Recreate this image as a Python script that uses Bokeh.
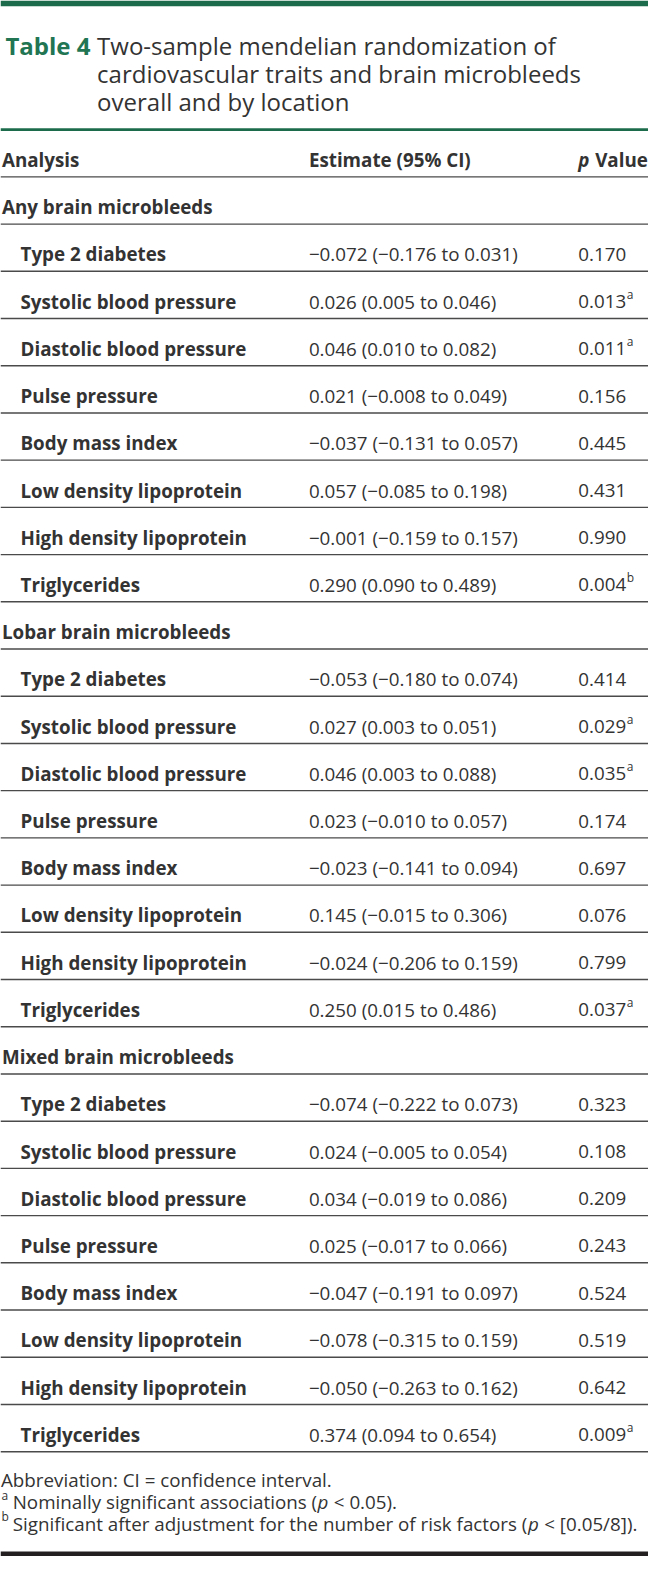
from bokeh.plotting import figure
from bokeh.models import ColumnDataSource, Range1d
from bokeh.core.properties import value
from bokeh.embed import file_html
from bokeh.resources import INLINE

# ---------------- data ----------------
title_label = "Table 4"
title_lines = ["Two-sample mendelian randomization of",
               "cardiovascular traits and brain microbleeds",
               "overall and by location"]
header_labels = ["Analysis", "Estimate (95% CI)", "p", "Value"]

sections = ["Any brain microbleeds", "Lobar brain microbleeds", "Mixed brain microbleeds"]
traits = ["Type 2 diabetes", "Systolic blood pressure", "Diastolic blood pressure",
          "Pulse pressure", "Body mass index", "Low density lipoprotein",
          "High density lipoprotein", "Triglycerides"]

any_est = [-0.072, 0.026, 0.046, 0.021, -0.037, 0.057, -0.001, 0.290]
any_lo = [-0.176, 0.005, 0.010, -0.008, -0.131, -0.085, -0.159, 0.090]
any_hi = [0.031, 0.046, 0.082, 0.049, 0.057, 0.198, 0.157, 0.489]
any_p = [0.170, 0.013, 0.011, 0.156, 0.445, 0.431, 0.990, 0.004]
any_mark = ["", "a", "a", "", "", "", "", "b"]

lobar_est = [-0.053, 0.027, 0.046, 0.023, -0.023, 0.145, -0.024, 0.250]
lobar_lo = [-0.180, 0.003, 0.003, -0.010, -0.141, -0.015, -0.206, 0.015]
lobar_hi = [0.074, 0.051, 0.088, 0.057, 0.094, 0.306, 0.159, 0.486]
lobar_p = [0.414, 0.029, 0.035, 0.174, 0.697, 0.076, 0.799, 0.037]
lobar_mark = ["", "a", "a", "", "", "", "", "a"]

mixed_est = [-0.074, 0.024, 0.034, 0.025, -0.047, -0.078, -0.050, 0.374]
mixed_lo = [-0.222, -0.005, -0.019, -0.017, -0.191, -0.315, -0.263, 0.094]
mixed_hi = [0.073, 0.054, 0.086, 0.066, 0.097, 0.159, 0.162, 0.654]
mixed_p = [0.323, 0.108, 0.209, 0.243, 0.524, 0.519, 0.642, 0.009]
mixed_mark = ["", "", "", "", "", "", "", "a"]

footnote_abbrev = "Abbreviation: CI = confidence interval."
footnote_a = ["a", "Nominally significant associations (", "p", "< 0.05)."]
footnote_b = ["b", "Significant after adjustment for the number of risk factors (", "p", "< [0.05/8])."]

# ---------------- layout / style ----------------
REF_W, REF_H = 664, 1572
FIG_W, FIG_H = 648, 1556
SX = FIG_W / REF_W
GREEN = "#1c6c4c"
TITLE_GREEN = "#217552"
TEXT = "#333333"
RULE = "#4a4a4a"
FONT = "Open Sans"
BODY_FS = 18.8
TITLE_FS = 24.0
SUP_FS = 12.0
TOP = 130.5
PITCH = 47.7
LEFT_SEC = 1.5
LEFT_TRAIT = 20.5
X_EST = 316
X_P = 592
BASE_OFF = 6.8
TITLE_BASE = 45
TITLE_LEAD = 28.5

# Open Sans regular advance widths (em)
W = {' ': .260, '(': .295, ')': .295, ',': .245, '-': .322, '.': .266, '/': .367,
     ':': .266, '<': .572, '=': .572, '[': .331, ']': .331,
     'A': .633, 'C': .631, 'I': .296, 'N': .742, 'S': .539, 'T': .542,
     'a': .556, 'b': .613, 'c': .476, 'd': .613, 'e': .561, 'f': .339, 'g': .548,
     'h': .614, 'i': .253, 'j': .253, 'k': .525, 'l': .253, 'm': .930, 'n': .614,
     'o': .604, 'p': .613, 'q': .613, 'r': .408, 's': .477, 't': .353, 'u': .614,
     'v': .501, 'w': .778, 'x': .524, 'y': .502, 'z': .477}
for d in "0123456789":
    W[d] = .572


def text_w(s, fs):
    """approximate width in data units"""
    return sum(W.get(c, .56) for c in s) * fs / SX


def fmt(v):
    return ("\u2212" if v < 0 else "") + f"{abs(v):.3f}"


# ---------------- build rows ----------------
rows = [("header",)]
groups = [(any_est, any_lo, any_hi, any_p, any_mark),
          (lobar_est, lobar_lo, lobar_hi, lobar_p, lobar_mark),
          (mixed_est, mixed_lo, mixed_hi, mixed_p, mixed_mark)]
for sec, (est, lo, hi, pv, mk) in zip(sections, groups):
    rows.append(("section", sec))
    for t, e, l, h, pp, m in zip(traits, est, lo, hi, pv, mk):
        rows.append(("trait", t, f"{fmt(e)} ({fmt(l)} to {fmt(h)})", f"{pp:.3f}", m))

bold = dict(x=[], y=[], t=[])
reg = dict(x=[], y=[], t=[])
sup = dict(x=[], y=[], t=[])
header_y = 0
for i, r in enumerate(rows):
    yb = TOP + PITCH * i + PITCH / 2 + BASE_OFF
    if r[0] == "header":
        for xx, tt in [(LEFT_SEC, header_labels[0]), (X_EST, header_labels[1])]:
            bold["x"].append(xx); bold["y"].append(yb); bold["t"].append(tt)
        header_y = yb
    elif r[0] == "section":
        bold["x"].append(LEFT_SEC); bold["y"].append(yb); bold["t"].append(r[1])
    else:
        bold["x"].append(LEFT_TRAIT); bold["y"].append(yb); bold["t"].append(r[1])
        reg["x"].append(X_EST); reg["y"].append(yb); reg["t"].append(r[2])
        reg["x"].append(X_P); reg["y"].append(yb); reg["t"].append(r[3])
        if r[4]:
            sup["x"].append(X_P + text_w(r[3], BODY_FS) + 0.5)
            sup["y"].append(yb - 7.5)
            sup["t"].append(r[4])

n_rows = len(rows)

p = figure(width=FIG_W, height=FIG_H, x_range=Range1d(0, REF_W), y_range=Range1d(REF_H, 0),
           output_backend="svg", toolbar_location=None, min_border=0,
           x_axis_location=None, y_axis_location=None)
p.grid.visible = False
p.outline_line_color = None
p.background_fill_color = "white"
p.border_fill_color = "white"

# bars top / bottom
p.quad(left=[0], right=[REF_W], top=[0], bottom=[5.7], fill_color=GREEN, line_color=None)
p.quad(left=[0], right=[REF_W], top=[1567], bottom=[REF_H], fill_color="#231f20", line_color=None)

# title
p.text(x=[5], y=[TITLE_BASE], text=[title_label], text_font=value(FONT), text_font_size=value(f"{TITLE_FS}px"),
       text_font_style=value("bold"), text_color=TITLE_GREEN, text_baseline="alphabetic", text_align="left")
p.text(x=[99] * 3, y=[TITLE_BASE + TITLE_LEAD * k for k in range(3)], text=title_lines, text_font=value(FONT),
       text_font_size=value(f"{TITLE_FS}px"), text_color=TEXT, text_baseline="alphabetic", text_align="left")

# rules
p.segment(x0=[0], x1=[REF_W], y0=[TOP], y1=[TOP], line_color=GREEN, line_width=2.6)
ys = [TOP + PITCH * i for i in range(1, n_rows + 1)]
p.segment(x0=[0] * len(ys), x1=[REF_W] * len(ys), y0=ys, y1=ys, line_color=RULE, line_width=1.4)

# table text
p.text(x="x", y="y", text="t", source=ColumnDataSource(bold), text_font=value(FONT),
       text_font_size=value(f"{BODY_FS}px"), text_font_style=value("bold"), text_color=TEXT,
       text_baseline="alphabetic", text_align="left")
p.text(x="x", y="y", text="t", source=ColumnDataSource(reg), text_font=value(FONT),
       text_font_size=value(f"{BODY_FS}px"), text_color=TEXT,
       text_baseline="alphabetic", text_align="left")
p.text(x="x", y="y", text="t", source=ColumnDataSource(sup), text_font=value(FONT),
       text_font_size=value(f"{SUP_FS}px"), text_color=TEXT,
       text_baseline="alphabetic", text_align="left")

# header "p Value"
p.text(x=[X_P], y=[header_y], text=[header_labels[2]], text_font=value(FONT),
       text_font_size=value(f"{BODY_FS}px"), text_font_style=value("bold italic"), text_color=TEXT,
       text_baseline="alphabetic", text_align="left")
p.text(x=[X_P + (0.64 + 0.26) * BODY_FS / SX], y=[header_y], text=[header_labels[3]], text_font=value(FONT),
       text_font_size=value(f"{BODY_FS}px"), text_font_style=value("bold"), text_color=TEXT,
       text_baseline="alphabetic", text_align="left")

# footnotes
FN_FS = BODY_FS
fn_y = [1495, 1517, 1539]
p.text(x=[0.5], y=[fn_y[0]], text=[footnote_abbrev], text_font=value(FONT),
       text_font_size=value(f"{FN_FS}px"), text_color=TEXT, text_baseline="alphabetic", text_align="left")
X_FN = 12.5
for fy, parts in zip(fn_y[1:], [footnote_a, footnote_b]):
    p.text(x=[1.0], y=[fy - 7.0], text=[parts[0]], text_font=value(FONT),
           text_font_size=value(f"{SUP_FS}px"), text_color=TEXT, text_baseline="alphabetic", text_align="left")
    p.text(x=[X_FN], y=[fy], text=[parts[1]], text_font=value(FONT),
           text_font_size=value(f"{FN_FS}px"), text_color=TEXT, text_baseline="alphabetic", text_align="left")
    xp = X_FN + text_w(parts[1], FN_FS)
    p.text(x=[xp], y=[fy], text=[parts[2]], text_font=value(FONT),
           text_font_size=value(f"{FN_FS}px"), text_font_style=value("italic"), text_color=TEXT,
           text_baseline="alphabetic", text_align="left")
    p.text(x=[xp + (0.60 + 0.26) * FN_FS / SX], y=[fy], text=[parts[3]], text_font=value(FONT),
           text_font_size=value(f"{FN_FS}px"), text_color=TEXT, text_baseline="alphabetic", text_align="left")

open("out.html", "w").write(file_html(p, INLINE))
